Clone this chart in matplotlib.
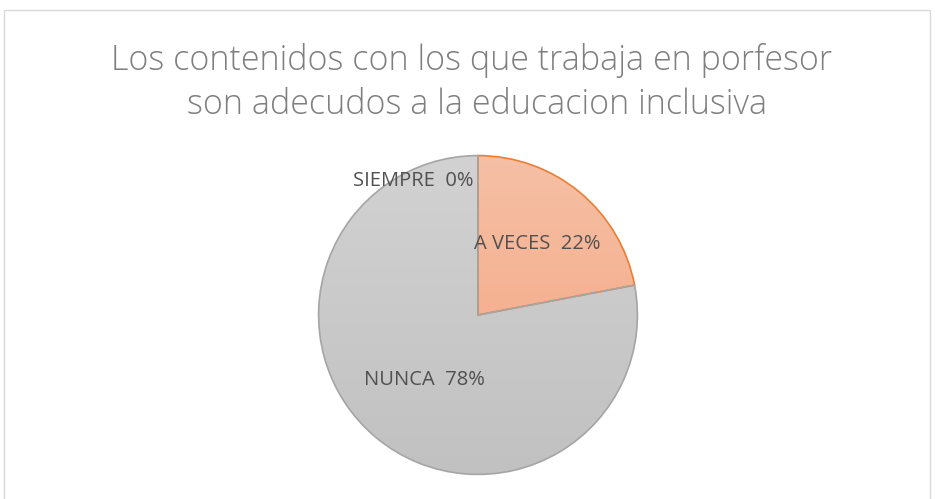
import numpy as np
import matplotlib
matplotlib.use("Agg")
import matplotlib.pyplot as plt
from matplotlib.patches import Rectangle
from matplotlib.colors import LinearSegmentedColormap

categories = ["SIEMPRE", "A VECES", "NUNCA"]
values = [0, 22, 78]
pct_labels = ["0%", "22%", "78%"]
title_lines = ["Los contenidos con los que trabaja en porfesor",
               "son adecudos a la educacion inclusiva"]

W, H = 935, 499
fig = plt.figure(figsize=(W / 100, H / 100), dpi=100)
fig.patch.set_facecolor("white")

# chart border (bottom edge falls outside the image)
fig.add_artist(Rectangle((4 / W, -0.02), 926 / W, (H - 10) / H + 0.02,
                         transform=fig.transFigure, fill=False,
                         edgecolor="#d9d9d9", linewidth=1))

fig.text(472 / W, 1 - 61 / H, title_lines[0], ha="center", va="center",
         fontsize=24.5, color="#7f7f7f", family="Open Sans", fontweight="light")
fig.text(477 / W, 1 - 105 / H, title_lines[1], ha="center", va="center",
         fontsize=24.5, color="#7f7f7f", family="Open Sans", fontweight="light")

cx, cy, r = 478, 315, 161
ax = fig.add_axes([(cx - r) / W, (H - cy - r) / H, 2 * r / W, 2 * r / H])
colors_top = ["#5b9bd5", "#f6c0a6", "#d2d2d2"]
colors_bot = ["#5b9bd5", "#f4a27c", "#c1c1c1"]
edges = ["#5b9bd5", "#ed7d31", "#a5a5a5"]
wedges, _ = ax.pie(values, startangle=90, counterclock=False, radius=1,
                   colors=colors_top, wedgeprops=dict(linewidth=1.2))
for w, ct, cb, ec in zip(wedges, colors_top, colors_bot, edges):
    w.set_edgecolor(ec)
    w.set_facecolor("none")
    grad = np.linspace(0, 1, 256).reshape(-1, 1)
    cmap = LinearSegmentedColormap.from_list("g", [ct, cb])
    im = ax.imshow(grad, extent=[-1, 1, -1, 1], origin="upper", cmap=cmap,
                   aspect="auto", zorder=w.get_zorder() - 0.1)
    im.set_clip_path(w)
ax.set_xlim(-1.01, 1.01)
ax.set_ylim(-1.01, 1.01)
ax.set_aspect("equal")
ax.axis("off")

# labels
total = sum(values)
theta = 90.0
lab_r = [0.0, 0.58, 0.53]
for i, (c, v, p) in enumerate(zip(categories, values, pct_labels)):
    span = 360 * v / total
    mid = np.deg2rad(theta - span / 2)
    theta -= span
    txt = f"{c}  {p}"
    if v == 0:
        ax.text(-0.03, 0.84, txt, ha="right", va="center", fontsize=14.5,
                color="#505050", family="Open Sans")
    else:
        ax.text(lab_r[i] * np.cos(mid), lab_r[i] * np.sin(mid), txt, ha="center",
                va="center", fontsize=14.5, color="#505050", family="Open Sans")

fig.savefig("out.png", dpi=100)
